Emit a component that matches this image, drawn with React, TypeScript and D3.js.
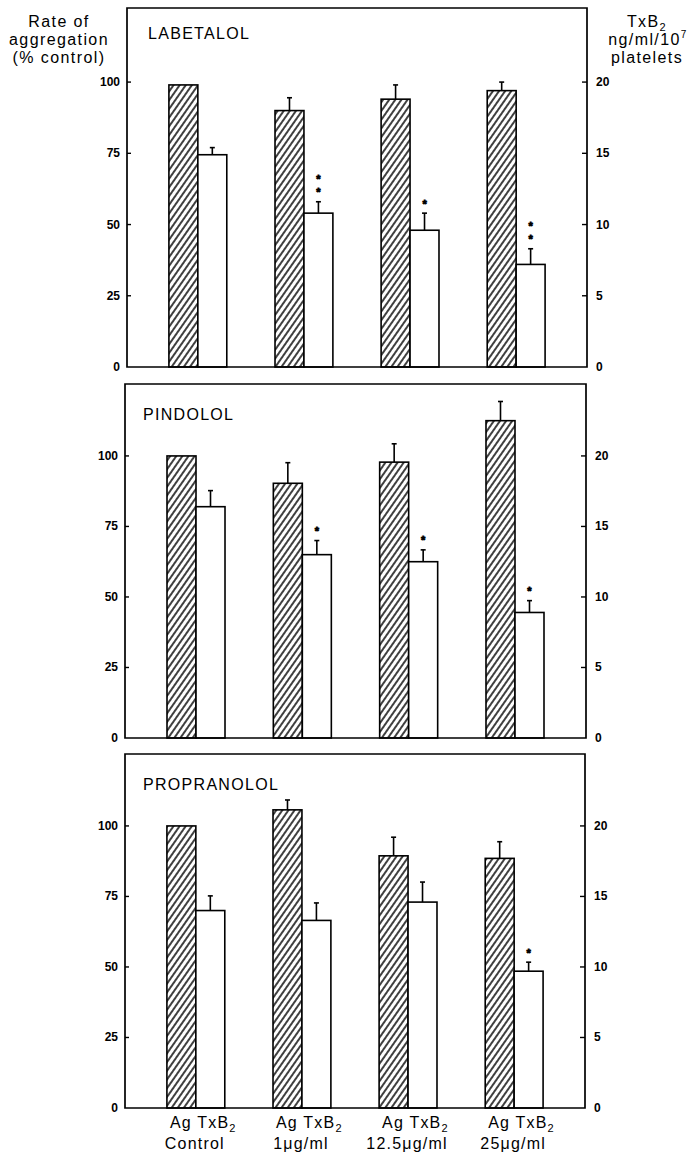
import React from "react";
import * as d3 from "d3";

const categories = ["Control", "1μg/ml", "12.5μg/ml", "25μg/ml"];
const drugs = ["LABETALOL", "PINDOLOL", "PROPRANOLOL"];

// Rate of aggregation (% control), hatched bars
const labetalolAg = [99, 90, 94, 97];
const labetalolAgErr = [0, 4.5, 5, 3];
const pindololAg = [100, 90.3, 97.8, 112.5];
const pindololAgErr = [0, 7.3, 6.5, 6.8];
const propranololAg = [100, 105.7, 89.4, 88.5];
const propranololAgErr = [0, 3.5, 6.6, 5.9];

// TxB2 ng/ml/10^7 platelets, open bars
const labetalolTx = [14.9, 10.8, 9.6, 7.2];
const labetalolTxErr = [0.5, 0.8, 1.2, 1.1];
const pindololTx = [16.4, 13.0, 12.5, 8.9];
const pindololTxErr = [1.14, 1.0, 0.84, 0.84];
const propranololTx = [14.0, 13.3, 14.6, 9.7];
const propranololTxErr = [1.04, 1.24, 1.42, 0.64];

// significance stars on TxB2 bars
const labetalolStars = [0, 2, 1, 2];
const pindololStars = [0, 1, 1, 1];
const propranololStars = [0, 0, 0, 1];

const leftTicks = [0, 25, 50, 75, 100];
const rightTicks = [0, 5, 10, 15, 20];

const panelData = [
  { name: drugs[0], ag: labetalolAg, agErr: labetalolAgErr, tx: labetalolTx, txErr: labetalolTxErr, stars: labetalolStars },
  { name: drugs[1], ag: pindololAg, agErr: pindololAgErr, tx: pindololTx, txErr: pindololTxErr, stars: pindololStars },
  { name: drugs[2], ag: propranololAg, agErr: propranololAgErr, tx: propranololTx, txErr: propranololTxErr, stars: propranololStars },
];

// layout (positions only)
const frames = [
  { left: 127, right: 587, top: 8, bottom: 367, labelX: 148, labelY: 39, max: 126 },
  { left: 125, right: 586, top: 384, bottom: 738, labelX: 143, labelY: 420, max: 125.5 },
  { left: 125, right: 585, top: 754, bottom: 1108, labelX: 143, labelY: 790, max: 125.5 },
];

const FONT = "'Liberation Sans', Arial, Helvetica, sans-serif";

function Panel({ d, f, idx }: any) {
  const x = d3
    .scaleBand<string>()
    .domain(categories)
    .range([f.left, f.right])
    .paddingInner(0.4545)
    .paddingOuter(0.395);
  const inner = d3.scaleBand<string>().domain(["Ag", "TxB2"]).range([0, x.bandwidth()]);
  const y = d3.scaleLinear().domain([0, f.max]).range([f.bottom, f.top]);
  const yR = d3.scaleLinear().domain([0, f.max / 5]).range([f.bottom, f.top]);
  const bw = inner.bandwidth();
  const sw = 1.6;
  return (
    <g>
      {categories.map((c, i) => {
        const x0 = (x(c) as number) + (inner("Ag") as number);
        const x1 = (x(c) as number) + (inner("TxB2") as number);
        const agTop = y(d.ag[i]);
        const txTop = yR(d.tx[i]);
        const agErrTop = y(d.ag[i] + d.agErr[i]);
        const txErrTop = yR(d.tx[i] + d.txErr[i]);
        const cxA = x0 + bw / 2;
        const cxT = x1 + bw / 2;
        const nStars = d.stars[i];
        return (
          <g key={c}>
            {d.agErr[i] > 0 && (
              <g stroke="#000" strokeWidth={sw}>
                <line x1={cxA} x2={cxA} y1={agTop} y2={agErrTop} />
                <line x1={cxA - 2.5} x2={cxA + 2.5} y1={agErrTop} y2={agErrTop} />
              </g>
            )}
            {d.txErr[i] > 0 && (
              <g stroke="#000" strokeWidth={sw}>
                <line x1={cxT} x2={cxT} y1={txTop} y2={txErrTop} />
                <line x1={cxT - 2.5} x2={cxT + 2.5} y1={txErrTop} y2={txErrTop} />
              </g>
            )}
            <rect x={x0} y={agTop} width={bw} height={f.bottom - agTop} fill="url(#hatch)" stroke="#000" strokeWidth={sw} />
            <rect x={x1} y={txTop} width={bw} height={f.bottom - txTop} fill="#fff" stroke="#000" strokeWidth={sw} />
            {d3.range(nStars).map((k: number) => (
              <text
                key={k}
                x={cxT}
                y={txErrTop - 12 - k * 13 + 6.5}
                textAnchor="middle"
                fontFamily={FONT}
                fontWeight="bold"
                fontSize={11}
                stroke="#000"
                strokeWidth={0.8}
              >
                *
              </text>
            ))}
          </g>
        );
      })}
      <path
        d={`M${f.left},${f.bottom}V${f.top}H${f.right}V${f.bottom}Z`}
        fill="none"
        stroke="#000"
        strokeWidth={1.7}
      />
      {leftTicks.map((t) => (
        <g key={"l" + t}>
          {t > 0 && <line x1={f.left} x2={f.left + 4} y1={y(t)} y2={y(t)} stroke="#000" strokeWidth={1.4} />}
          <text x={f.left - 7} y={y(t) + 4} textAnchor="end" fontFamily={FONT} fontWeight="bold" fontSize={12}>
            {t}
          </text>
        </g>
      ))}
      {rightTicks.map((t) => (
        <g key={"r" + t}>
          {t > 0 && <line x1={f.right - 5} x2={f.right} y1={yR(t)} y2={yR(t)} stroke="#000" strokeWidth={1.4} />}
          <text x={f.right + 9} y={yR(t) + 4} textAnchor="start" fontFamily={FONT} fontWeight="bold" fontSize={12}>
            {t}
          </text>
        </g>
      ))}
      <text x={f.labelX} y={f.labelY} fontFamily={FONT} fontSize={16} letterSpacing={1.3}>
        {d.name}
      </text>
      {idx === 2 &&
        categories.map((c) => {
          const gx = x(c) as number;
          return (
            <g key={"cat" + c} fontFamily={FONT} fontSize={16} letterSpacing={1.2}>
              <text x={gx + 3} y={1128}>
                Ag TxB
                <tspan fontSize={11} dy={4}>
                  2
                </tspan>
              </text>
              <text x={gx + x.bandwidth() / 2 - 1} y={1149} textAnchor="middle">
                {c}
              </text>
            </g>
          );
        })}
    </g>
  );
}

export default function App() {
  return (
    <svg width={696} height={1153} style={{ position: "absolute", left: 0, top: 0, background: "#fff" }}>
      <defs>
        <pattern id="hatch" patternUnits="userSpaceOnUse" width={5} height={5} patternTransform="rotate(35)">
          <rect width={5} height={5} fill="#fff" />
          <line x1={1} y1={-1} x2={1} y2={6} stroke="#000" strokeWidth={1.5} />
        </pattern>
      </defs>
      <rect width={696} height={1153} fill="#fff" />
      <g fontFamily={FONT} fontSize={16} letterSpacing={1.4} textAnchor="middle">
        <text x={59} y={27}>Rate of</text>
        <text x={59} y={45}>aggregation</text>
        <text x={59} y={63}>(% control)</text>
        <text x={647} y={27}>
          TxB<tspan fontSize={11} dy={4}>2</tspan>
        </text>
        <text x={648} y={45}>
          ng/ml/10<tspan fontSize={10} dy={-7}>7</tspan>
        </text>
        <text x={647} y={63}>platelets</text>
      </g>
      {panelData.map((d, i) => (
        <Panel key={d.name} d={d} f={frames[i]} idx={i} />
      ))}
    </svg>
  );
}
